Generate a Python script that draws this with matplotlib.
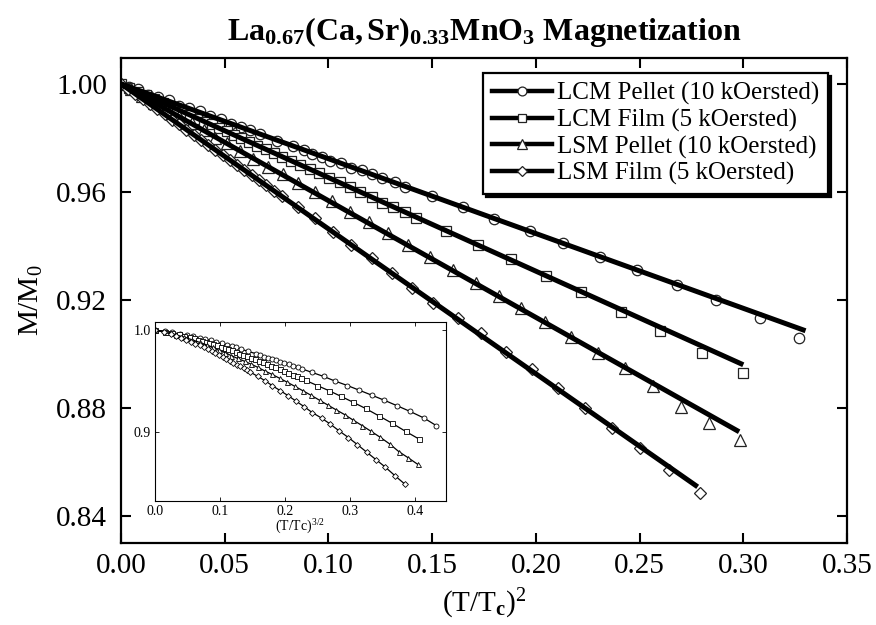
import numpy as np
import matplotlib
matplotlib.use('Agg')
import matplotlib.pyplot as plt
from matplotlib.lines import Line2D

plt.rcParams['font.family'] = 'serif'
plt.rcParams['font.serif'] = ['Liberation Serif', 'DejaVu Serif']
plt.rcParams['mathtext.fontset'] = 'custom'
plt.rcParams['mathtext.rm'] = 'Liberation Serif'
plt.rcParams['mathtext.it'] = 'Liberation Serif:italic'
plt.rcParams['mathtext.bf'] = 'Liberation Serif:bold'

# LCM pellet (10 kOe): x = (T/Tc)^2, M/M0
lcm_pellet_x = [0.000, 0.004, 0.008, 0.013, 0.018, 0.023, 0.028, 0.033, 0.038, 0.043,
                0.048, 0.053, 0.058, 0.062, 0.067, 0.075, 0.083, 0.088, 0.092, 0.097,
                0.101, 0.106, 0.111, 0.116, 0.121, 0.126, 0.132, 0.137, 0.150, 0.165,
                0.180, 0.197, 0.213, 0.231, 0.249, 0.268, 0.287, 0.308, 0.327]
lcm_pellet_m = [1.000, 0.999, 0.998, 0.996, 0.995, 0.994, 0.992, 0.991, 0.990, 0.988,
                0.987, 0.985, 0.984, 0.983, 0.9815, 0.979, 0.977, 0.9755, 0.974, 0.973,
                0.9715, 0.9706, 0.969, 0.968, 0.9665, 0.965, 0.9635, 0.962, 0.9585, 0.9545,
                0.950, 0.9455, 0.941, 0.936, 0.931, 0.9255, 0.920, 0.9135, 0.906]

# LCM film (5 kOe)
lcm_film_x = [0.000, 0.004, 0.008, 0.012, 0.016, 0.0204, 0.0236, 0.0268, 0.030, 0.0332,
              0.0365, 0.040, 0.0437, 0.0474, 0.0509, 0.0544, 0.0581, 0.0618, 0.0657, 0.0697,
              0.0737, 0.0777, 0.082, 0.0862, 0.091, 0.0955, 0.1003, 0.1055, 0.1103, 0.1151,
              0.1208, 0.126, 0.1312, 0.1368, 0.1424, 0.1569, 0.1721, 0.188, 0.205, 0.222,
              0.241, 0.260, 0.280, 0.300]
lcm_film_m = [1.000, 0.9985, 0.997, 0.996, 0.9945, 0.993, 0.992, 0.9905, 0.9895, 0.9885,
              0.987, 0.986, 0.985, 0.9835, 0.9825, 0.981, 0.980, 0.9785, 0.977, 0.976,
              0.9745, 0.973, 0.9715, 0.970, 0.9685, 0.967, 0.965, 0.9635, 0.962, 0.960,
              0.958, 0.956, 0.9545, 0.9525, 0.9505, 0.9455, 0.9405, 0.935, 0.929, 0.923,
              0.9157, 0.9085, 0.9005, 0.893]

# LSM pellet (10 kOe)
lsm_pellet_x = [0.000, 0.005, 0.010, 0.016, 0.022, 0.028, 0.034, 0.040, 0.0453, 0.051,
                0.0573, 0.0637, 0.071, 0.0782, 0.0854, 0.0934, 0.1015, 0.1103, 0.1196, 0.1288,
                0.1384, 0.1488, 0.160, 0.171, 0.182, 0.193, 0.2042, 0.2171, 0.2299, 0.2428,
                0.2564, 0.2701, 0.2837, 0.2982]
lsm_pellet_m = [1.000, 0.998, 0.9955, 0.993, 0.9905, 0.988, 0.9855, 0.983, 0.980, 0.978,
                0.975, 0.9722, 0.9694, 0.9665, 0.9634, 0.9598, 0.9565, 0.9527, 0.9487, 0.9447,
                0.9405, 0.936, 0.931, 0.9262, 0.9215, 0.917, 0.9118, 0.9062, 0.9005, 0.8947,
                0.8882, 0.8805, 0.8746, 0.8681]

# LSM film (5 kOe)
lsm_film_x = [0.000, 0.0035, 0.007, 0.0105, 0.014, 0.0175, 0.021, 0.0245, 0.028, 0.0315,
              0.035, 0.0385, 0.042, 0.0455, 0.049, 0.0525, 0.056, 0.0595, 0.063, 0.0665,
              0.070, 0.0737, 0.0774, 0.0854, 0.0934, 0.102, 0.1111, 0.1208, 0.1305, 0.1405,
              0.1504, 0.1625, 0.1737, 0.1858, 0.1983, 0.2107, 0.2235, 0.2368, 0.2503, 0.2641,
              0.2789]
lsm_film_m = [1.000, 0.998, 0.9962, 0.9944, 0.9925, 0.9906, 0.9887, 0.9868, 0.985, 0.9831,
              0.9812, 0.9793, 0.9774, 0.9756, 0.9737, 0.9718, 0.970, 0.968, 0.9662, 0.9643,
              0.9624, 0.9604, 0.9585, 0.9546, 0.9503, 0.9453, 0.9405, 0.9354, 0.930, 0.9246,
              0.919, 0.9135, 0.9077, 0.9009, 0.8944, 0.8874, 0.8801, 0.8727, 0.8653, 0.857,
              0.8486]

# straight-line fits: end points (all start at x=0, M/M0=1)
fit_end_x = [0.330, 0.300, 0.298, 0.278]
fit_end_m = [0.9086, 0.896, 0.8712, 0.8508]

labels = ['LCM Pellet (10 kOersted)', 'LCM Film (5 kOersted)',
          'LSM Pellet (10 kOersted)', 'LSM Film (5 kOersted)']
markers = ['o', 's', '^', 'D']
msizes = [7.5, 7.2, 8.6, 6.2]
series = [(lcm_pellet_x, lcm_pellet_m), (lcm_film_x, lcm_film_m),
          (lsm_pellet_x, lsm_pellet_m), (lsm_film_x, lsm_film_m)]

fig = plt.figure(figsize=(8.76, 6.25), dpi=100)
ax = fig.add_axes([0.1381, 0.1312, 0.8288, 0.776])

for i, (x, m) in enumerate(series):
    ax.plot(x, m, linestyle='none', marker=markers[i], ms=msizes[i],
            mfc='white', mec='#222222', mew=0.9, zorder=2)
    ax.plot([0, fit_end_x[i]], [1.0, fit_end_m[i]], color='black', lw=3.6,
            solid_capstyle='butt', zorder=3)

ax.set_xlim(0, 0.35)
ax.set_ylim(0.83, 1.0096)
ax.set_xticks(np.arange(0, 0.351, 0.05))
ax.set_yticks([0.84, 0.88, 0.92, 0.96, 1.00])
ax.xaxis.set_major_formatter(plt.FormatStrFormatter('%.2f'))
ax.yaxis.set_major_formatter(plt.FormatStrFormatter('%.2f'))
ax.tick_params(direction='in', length=7, width=1.5, labelsize=21,
               top=True, right=True)
ax.tick_params(axis='x', pad=7)
ax.tick_params(axis='y', pad=10)
for s in ax.spines.values():
    s.set_linewidth(1.6)

ax.set_xlabel(r'(T/T$_{\mathbf{c}}$)$^{2}$', fontsize=21, labelpad=6)
ax.set_ylabel(r'M/M$_{0}$', fontsize=21, labelpad=8)
ax.set_title(r'$\mathbf{La_{0.67}(Ca,Sr)_{0.33}MnO_{3}}$ Magnetization',
             fontsize=23, fontweight='bold', pad=13)

handles = [Line2D([], [], color='black', lw=3.2, marker=markers[i],
                  ms=msizes[i] * 0.85, mfc='white', mec='#222222', mew=0.9)
           for i in range(4)]
leg = ax.legend(handles, labels, loc='upper right', bbox_to_anchor=(0.974, 0.969),
                borderaxespad=0, fontsize=18, frameon=True, fancybox=False,
                edgecolor='black', framealpha=1, handlelength=2.4,
                handletextpad=0.2, labelspacing=0.15, borderpad=0.35,
                shadow={'color': 'black', 'alpha': 1})
leg.get_frame().set_linewidth(1.6)

# inset: same data against (T/Tc)^(3/2)
ins = fig.add_axes([0.1769, 0.1984, 0.3322, 0.2864])
for i, (x, m) in enumerate(series):
    xi = np.array(x) ** 0.75
    ins.plot(xi, m, color='black', lw=0.9, marker=markers[i], ms=3.6 if i != 3 else 3.0,
             mfc='white', mec='black', mew=0.6)
ins.set_xlim(0, 0.447)
ins.set_ylim(0.832, 1.008)
ins.set_xticks([0.0, 0.1, 0.2, 0.3, 0.4])
ins.set_yticks([0.9, 1.0])
ins.xaxis.set_major_formatter(plt.FormatStrFormatter('%.1f'))
ins.yaxis.set_major_formatter(plt.FormatStrFormatter('%.1f'))
ins.tick_params(direction='in', length=3, width=0.6, labelsize=10,
                top=True, right=True, pad=3)
for s in ins.spines.values():
    s.set_linewidth(0.8)
ins.set_xlabel(r'(T/Tc)$^{3/2}$', fontsize=10, labelpad=0)

fig.savefig('out.png', dpi=100)
